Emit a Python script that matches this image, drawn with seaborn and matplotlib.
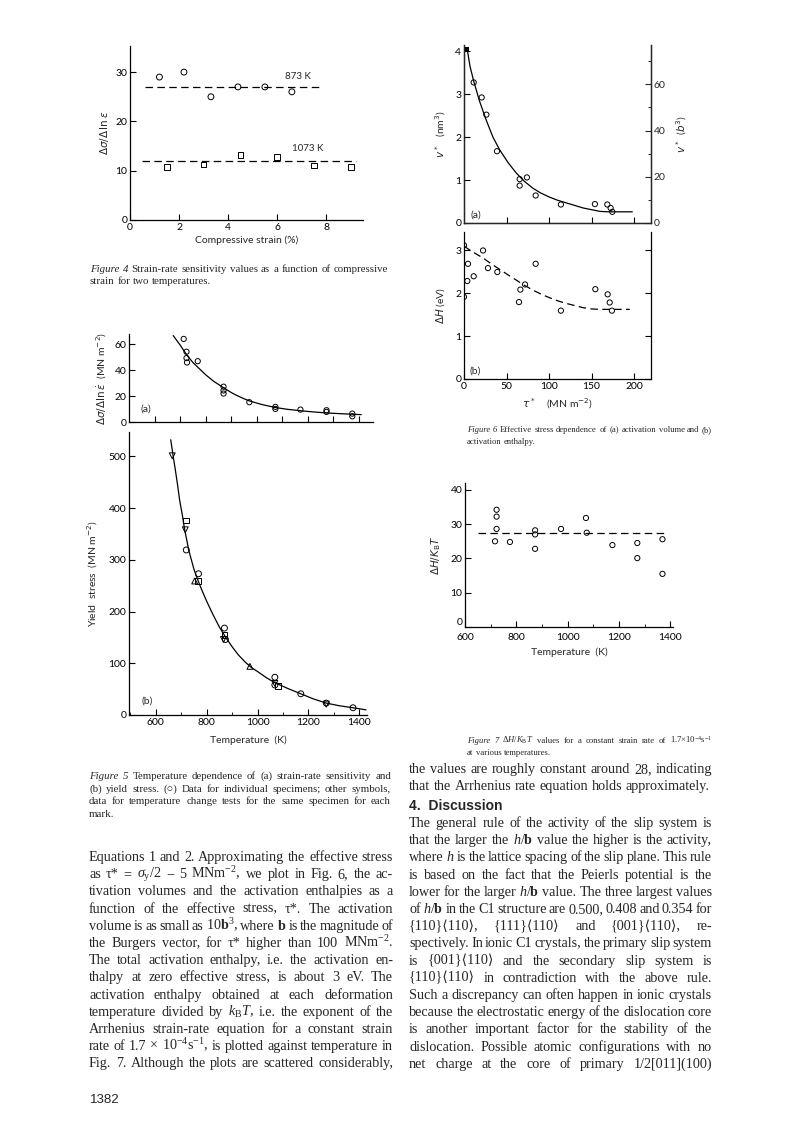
import matplotlib
matplotlib.use("Agg")
import pandas as pd
import matplotlib.pyplot as plt
from matplotlib.ticker import MultipleLocator
import seaborn as sns

# =====================================================
# DATA
# =====================================================

# Figure 4 : strain-rate sensitivity vs compressive strain
strain_873 = [1.2, 2.2, 3.3, 4.4, 5.5, 6.6]
ratio_873 = [29.0, 30.0, 25.0, 27.0, 27.0, 26.0]
strain_1073 = [1.5, 3.0, 4.5, 6.0, 7.5, 9.0]
ratio_1073 = [10.7, 11.3, 13.2, 12.8, 11.1, 10.7]
mean873_x = [0.6, 7.7]
mean873_y = [27.0, 27.0]
mean1073_x = [0.5, 9.2]
mean1073_y = [12.0, 12.0]

# Figure 5(a) : strain-rate sensitivity vs temperature
temp_5a = [714, 725, 725, 727, 769, 870, 870, 870, 971, 1073, 1073,
           1171, 1273, 1273, 1374, 1374]
sens_5a = [64.2, 54.3, 49.4, 46.0, 47.0, 27.3, 24.4, 22.0, 15.3, 11.7,
           10.1, 9.6, 9.1, 7.8, 6.5, 4.4]
fit5a_t = [673, 700, 727, 750, 779, 800, 831, 870, 900, 922, 950, 971,
           1020, 1073, 1120, 1171, 1220, 1273, 1340, 1409]
fit5a_v = [66.8, 59.5, 51.5, 46.0, 40.5, 36.5, 31.5, 26.5, 22.8, 20.5,
           18.0, 16.3, 13.5, 11.2, 9.8, 8.7, 7.8, 7.0, 6.3, 5.7]

# Figure 5(b) : yield stress vs temperature
temp_5b = [665, 720, 716, 720, 768, 753, 765, 870, 870, 866, 874, 970,
           1068, 1068, 1068, 1082, 1170, 1270, 1270, 1375]
yield_5b = [501, 376, 358, 319, 273, 259, 259, 168, 155, 146, 146, 94,
            73, 61, 58, 56, 41, 23, 21, 14]
sym_5b = ["v", "s", "v", "o", "o", "^", "s", "o", "s", "v", "o", "^",
          "o", "v", "o", "s", "o", "o", "v", "o"]
fit5b_t = [659, 668, 677, 686, 694, 704, 713, 722, 730, 740, 750, 760,
           770, 785, 800, 825, 850, 875, 900, 925, 950, 975, 1000, 1035,
           1070, 1120, 1170, 1220, 1270, 1320, 1375, 1426]
fit5b_v = [532, 502, 474, 444, 415, 388, 360, 338, 318, 300, 282, 268,
           255, 237, 220, 194, 170, 150, 132, 116, 103, 92, 84, 72,
           62, 51, 41, 31, 23, 18, 14, 10]

# Figure 6(a) : activation volume vs effective stress
tau_6a = [11.4, 20.8, 26.3, 38.8, 65.5, 65.5, 74.0, 84.3, 114.0, 154.0,
          168.6, 172.5, 174.5]
vol_6a = [3.27, 2.92, 2.52, 1.67, 1.02, 0.87, 1.06, 0.64, 0.43, 0.44,
          0.43, 0.35, 0.26]
tau_6a_filled = [4.0]
vol_6a_filled = [4.05]
fit6a_t = [3.9, 7, 11.4, 18, 26, 34, 42, 52, 61.6, 71, 81, 90, 100.8,
           110, 120, 130, 140, 150, 160, 170, 179, 198]
fit6a_v = [4.03, 3.65, 3.3, 2.85, 2.4, 2.0, 1.7, 1.4, 1.16, 0.97, 0.81,
           0.7, 0.6, 0.53, 0.47, 0.41, 0.35, 0.31, 0.27, 0.26, 0.26, 0.26]

# Figure 6(b) : activation enthalpy vs effective stress
tau_6b = [0, 0, 4.7, 3.9, 11.4, 22.4, 28.2, 39.2, 66.3, 71.8, 64.7, 84.3,
          114, 154.5, 169, 171.4, 174]
enth_6b = [3.11, 1.91, 2.68, 2.28, 2.39, 2.99, 2.58, 2.49, 2.08, 2.2, 1.79,
           2.68, 1.59, 2.09, 1.97, 1.78, 1.59]
fit6b_t = [0, 10, 22, 32, 42, 52, 61.6, 71, 81, 91, 100.8, 110, 120, 130,
           140, 150, 160, 175, 195]
fit6b_v = [3.09, 2.96, 2.82, 2.68, 2.55, 2.42, 2.3, 2.18, 2.07, 1.97, 1.89,
           1.82, 1.76, 1.71, 1.66, 1.63, 1.62, 1.62, 1.62]

# Figure 7 : dH/kT vs temperature
temp_7 = [717, 723, 723, 723, 775, 873, 873, 873, 974, 1071, 1074, 1174,
          1271, 1271, 1369, 1369]
dhkt_7 = [25.0, 28.6, 32.2, 34.2, 24.8, 28.2, 27.0, 22.8, 28.6, 31.8, 27.5,
          23.9, 24.5, 20.1, 25.6, 15.5]
mean7_x = [652, 1380]
mean7_y = [27.5, 27.5]

# page text ("~" marks an italic word)
CAP4 = [
    "~Figure ~4 Strain-rate sensitivity values as a function of compressive",
    "strain for two temperatures.",
]
CAP5 = [
    "~Figure ~5 Temperature dependence of (a) strain-rate sensitivity and",
    "(b) yield stress. (\u25cb) Data for individual specimens; other symbols,",
    "data for temperature change tests for the same specimen for each",
    "mark.",
]
CAP6 = [
    "~Figure ~6 Effective stress dependence of (a) activation volume and (b)",
    "activation enthalpy.",
]
CAP7 = [
    "~Figure ~7 $\\Delta{}H/K_\\mathrm{B}T$ values for a constant strain rate of 1.7\u00d710$^{-4}$s$^{-1}$",
    "at various temperatures.",
]
LEFT_TEXT = [
    "Equations 1 and 2. Approximating the effective stress",
    "as \u03c4* = $\\sigma_\\mathrm{y}/2$ \u2212 5 MNm$^{-2}$, we plot in Fig. 6, the ac-",
    "tivation volumes and the activation enthalpies as a",
    "function of the effective stress, \u03c4*. The activation",
    "volume is as small as 10$\\mathbf{b}^3$, where $\\mathbf{b}$ is the magnitude of",
    "the Burgers vector, for \u03c4* higher than 100 MNm$^{-2}$.",
    "The total activation enthalpy, i.e. the activation en-",
    "thalpy at zero effective stress, is about 3 eV. The",
    "activation enthalpy obtained at each deformation",
    "temperature divided by $k_\\mathrm{B}T$, i.e. the exponent of the",
    "Arrhenius strain-rate equation for a constant strain",
    "rate of 1.7 \u00d7 10$^{-4}$s$^{-1}$, is plotted against temperature in",
    "Fig. 7. Although the plots are scattered considerably,",
]
RIGHT_TOP = [
    "the values are roughly constant around 28, indicating",
    "that the Arrhenius rate equation holds approximately.",
]
DISCUSSION = [
    "The general rule of the activity of the slip system is",
    "that the larger the $h/\\mathbf{b}$ value the higher is the activity,",
    "where $h$ is the lattice spacing of the slip plane. This rule",
    "is based on the fact that the Peierls potential is the",
    "lower for the larger $h/\\mathbf{b}$ value. The three largest values",
    "of $h/\\mathbf{b}$ in the C1 structure are 0.500, 0.408 and 0.354 for",
    "{110}\u27e8110\u27e9, {111}\u27e8110\u27e9 and {001}\u27e8110\u27e9, re-",
    "spectively. In ionic C1 crystals, the primary slip system",
    "is {001}\u27e8110\u27e9 and the secondary slip system is",
    "{110}\u27e8110\u27e9 in contradiction with the above rule.",
    "Such a discrepancy can often happen in ionic crystals",
    "because the electrostatic energy of the dislocation core",
    "is another important factor for the stability of the",
    "dislocation. Possible atomic configurations with no",
    "net charge at the core of primary 1/2[011](100)",
]

# =====================================================
# STYLE
# =====================================================

sns.set_style("ticks")
SANS = ["Lato", "DejaVu Sans"]
SERIF = ["Liberation Serif", "DejaVu Serif", "DejaVu Sans"]
plt.rcParams["font.family"] = SANS
plt.rcParams["mathtext.fontset"] = "custom"
plt.rcParams["mathtext.rm"] = "Liberation Serif"
plt.rcParams["mathtext.it"] = "Liberation Serif:italic"
plt.rcParams["mathtext.bf"] = "Liberation Serif:bold"
plt.rcParams["axes.linewidth"] = 0.9

W, H = 792, 1123
fig = plt.figure(figsize=(W / 100, H / 100), dpi=100)
fig.patch.set_facecolor("white")


def box(x0, y_top, x1, y_bot):
    return [x0 / W, 1 - y_bot / H, (x1 - x0) / W, (y_bot - y_top) / H]


def style_axes(ax, right=False):
    ax.set_facecolor("white")
    for s in ["left", "bottom", "right", "top"]:
        ax.spines[s].set_color("black")
    ax.spines["top"].set_visible(False)
    ax.spines["right"].set_visible(right)
    ax.tick_params(which="major", direction="in", length=4, width=0.8,
                   labelsize=7.5, pad=2, colors="black", right=right)
    ax.tick_params(which="minor", direction="in", length=2.5, width=0.7,
                   right=right)


def open_points(ax, x, y, marker="o", s=18):
    sns.scatterplot(x=x, y=y, ax=ax, marker=marker, s=s, facecolor="none",
                    edgecolor="black", linewidth=0.7, zorder=3)


def curve(ax, x, y, dashed=False):
    sns.lineplot(x=x, y=y, ax=ax, sort=False, estimator=None, color="black",
                 lw=0.9, ls=(0, (6, 3.5)) if dashed else "-")


LBL = dict(fontsize=7.5, math_fontfamily="dejavusans")

# =====================================================
# FIGURE 4
# =====================================================

ax4 = fig.add_axes(box(130, 46, 363, 220))
curve(ax4, mean873_x, mean873_y, dashed=True)
curve(ax4, mean1073_x, mean1073_y, dashed=True)
open_points(ax4, strain_873, ratio_873, "o")
open_points(ax4, strain_1073, ratio_1073, "s", s=16)
ax4.set_xlim(0, 9.5)
ax4.set_ylim(0, 35.3)
ax4.set_xticks([0, 2, 4, 6, 8])
ax4.set_yticks([0, 10, 20, 30])
style_axes(ax4)
ax4.text(6.3, 28.6, "873 K", fontsize=7)
ax4.text(6.6, 14.0, "1073 K", fontsize=7)
ax4.set_xlabel("Compressive strain (%)", labelpad=3, **LBL)
ax4.set_ylabel("$\\Delta\\sigma/\\Delta\\,\\ln\\varepsilon$", labelpad=3, **LBL)

# =====================================================
# FIGURE 5 (a) and (b)
# =====================================================

ax5a = fig.add_axes(box(129, 334, 373, 422))
curve(ax5a, fit5a_t, fit5a_v)
open_points(ax5a, temp_5a, sens_5a, "o", s=14)
ax5a.set_xlim(500, 1455)
ax5a.set_ylim(0, 68)
ax5a.set_xticks(range(600, 1500, 100))
ax5a.set_yticks([0, 20, 40, 60])
style_axes(ax5a)
ax5a.tick_params(axis="x", labelbottom=False)
ax5a.set_xlabel("")
ax5a.text(545, 8, "(a)", fontsize=7.5)
ax5a.set_ylabel("$\\Delta\\sigma/\\Delta\\ln\\dot{\\varepsilon}$  (MN m$^{-2}$)",
                labelpad=4, **LBL)

ax5b = fig.add_axes(box(129, 432, 367, 715))
curve(ax5b, fit5b_t, fit5b_v)
df5b = pd.DataFrame({"T": temp_5b, "Y": yield_5b, "sym": sym_5b})
sns.scatterplot(data=df5b, x="T", y="Y", style="sym",
                markers={"o": "o", "s": "s", "^": "^", "v": "v"},
                s=18, facecolor="none", edgecolor="black", linewidth=0.7,
                legend=False, ax=ax5b, zorder=3)
ax5b.set_xlim(495, 1430)
ax5b.set_ylim(0, 547)
ax5b.set_xticks(range(600, 1500, 200))
ax5b.xaxis.set_minor_locator(MultipleLocator(100))
ax5b.set_yticks(range(0, 600, 100))
style_axes(ax5b)
ax5b.text(545, 22, "(b)", fontsize=7.5)
ax5b.set_xlabel("Temperature  (K)", labelpad=6, **LBL)
ax5b.set_ylabel("Yield  stress  (MN m$^{-2}$)", labelpad=6, **LBL)

# =====================================================
# FIGURE 6 (a) and (b)
# =====================================================

ax6a = fig.add_axes(box(464, 45, 651, 223))
curve(ax6a, fit6a_t, fit6a_v)
open_points(ax6a, tau_6a, vol_6a, "o", s=14)
sns.scatterplot(x=tau_6a_filled, y=vol_6a_filled, ax=ax6a, marker="s", s=8,
                color="black", linewidth=0, zorder=3)
ax6a.set_xlim(0, 220)
ax6a.set_ylim(0, 4.14)
ax6a.set_xticks([50, 100, 150, 200])
ax6a.set_yticks([0, 1, 2, 3, 4])
style_axes(ax6a, right=True)
ax6a.tick_params(axis="x", labelbottom=False)
ax6a.tick_params(axis="y", right=False)
ax6a.set_xlabel("")
ax6a.text(8, 0.12, "(a)", fontsize=7.5)
ax6a.set_ylabel("$v^*$   (nm$^3$)", labelpad=5, **LBL)

ax6r = ax6a.twinx()
ax6r.set_ylim(0, 4.14 * 18.6)
ax6r.set_yticks([0, 20, 40, 60])
ax6r.yaxis.set_minor_locator(MultipleLocator(10))
ax6r.spines["top"].set_visible(False)
ax6r.tick_params(which="major", direction="in", length=4, width=0.8,
                 labelsize=7.5, pad=2)
ax6r.tick_params(which="minor", direction="in", length=2.5, width=0.7)
ax6r.set_ylabel("$v^*$  ($b^3$)", labelpad=6, **LBL)

ax6b = fig.add_axes(box(464, 232, 651, 379))
curve(ax6b, fit6b_t, fit6b_v, dashed=True)
open_points(ax6b, tau_6b, enth_6b, "o", s=14)
ax6b.set_xlim(0, 220)
ax6b.set_ylim(0, 3.42)
ax6b.set_xticks([0, 50, 100, 150, 200])
ax6b.set_yticks([0, 1, 2, 3])
style_axes(ax6b, right=True)
ax6b.text(7, 0.12, "(b)", fontsize=7.5)
ax6b.set_xlabel("$\\tau^*$    (MN m$^{-2}$)", labelpad=4, **LBL)
ax6b.set_ylabel("$\\Delta H$ (eV)", labelpad=6, **LBL)

# =====================================================
# FIGURE 7
# =====================================================

ax7 = fig.add_axes(box(465, 483, 673, 627))
curve(ax7, mean7_x, mean7_y, dashed=True)
open_points(ax7, temp_7, dhkt_7, "o", s=14)
ax7.set_xlim(600, 1410)
ax7.set_ylim(0, 42)
ax7.set_xticks(range(600, 1500, 200))
ax7.xaxis.set_minor_locator(MultipleLocator(100))
ax7.set_yticks([0, 10, 20, 30, 40])
style_axes(ax7)
ax7.tick_params(axis="x", pad=4)
ax7.get_yticklabels()[0].set_va("bottom")
ax7.set_xlabel("Temperature  (K)", labelpad=4, **LBL)
ax7.set_ylabel("$\\Delta H/K_\\mathrm{B}T$", labelpad=5, **LBL)

# =====================================================
# PAGE TEXT (justified word by word)
# =====================================================

renderer = fig.canvas.get_renderer()


def natural_width(line, size):
    t = fig.text(0, 0, line.replace("~", ""), fontsize=size, family=SERIF)
    w = t.get_window_extent(renderer).width
    t.remove()
    return w


def put_line(line, x0, x1, y, size, justify=True):
    texts = []
    for w in line.split(" "):
        style = "normal"
        if w.startswith("~"):
            w = w[1:]
            style = "italic"
        t = fig.text(x0 / W, 1 - y / H, w, fontsize=size, family=SERIF,
                     style=style, va="baseline", ha="left")
        texts.append(t)
    widths = [t.get_window_extent(renderer).width for t in texts]
    space = size * 1.39 * 0.25
    if justify and len(texts) > 1:
        gap = max((x1 - x0 - sum(widths)) / (len(texts) - 1), 1.2)
    else:
        gap = space
    x = x0
    for t, wd in zip(texts, widths):
        t.set_x(x / W)
        x += wd + gap


def put_block(lines, x0, x1, y0, step, size, last_justified=False):
    for i, line in enumerate(lines):
        last = i == len(lines) - 1
        put_line(line, x0, x1, y0 + i * step, size,
                 justify=(not last) or last_justified)


# sizes chosen so that a line at natural spacing spans its column
body_size = 10 * 300 / natural_width(RIGHT_TOP[1], 10)
cap_left = 10 * 290 / natural_width(CAP4[0], 10)
cap_right = 10 * 238 / natural_width(CAP6[0], 10)

put_block(CAP4, 90, 388, 272, 12.5, cap_left)
put_block(CAP5, 89, 391, 779, 12.7, cap_left)
put_block(CAP6, 467, 712, 432, 12.2, cap_right)
put_block(CAP7, 467, 712, 743, 12.2, cap_right)

put_block(LEFT_TEXT, 89, 393, 861, 17.2, body_size, last_justified=True)
put_block(RIGHT_TOP, 409, 712, 773, 17.2, body_size)
fig.text(409 / W, 1 - 810 / H, "4.  Discussion", fontsize=10,
         family=["Liberation Sans", "DejaVu Sans"], weight="bold",
         va="baseline")
put_block(DISCUSSION, 409, 712, 827, 17.2, body_size, last_justified=True)

fig.text(90 / W, 1 - 1103 / H, "1382", fontsize=9.5,
         family=["Liberation Sans", "DejaVu Sans"], va="baseline")

fig.savefig("out.png", dpi=100, facecolor="white")
